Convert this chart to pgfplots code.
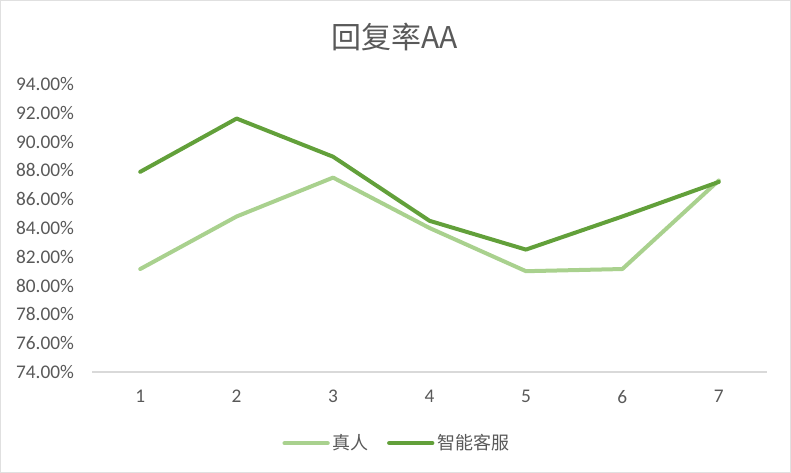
\documentclass[border=0pt]{standalone}
\usepackage{pgfplots}
\pgfplotsset{compat=1.18}
\usepackage{fontspec}
\setmainfont{Carlito}
\newfontfamily\cjk{Noto Sans CJK SC}
\definecolor{txtgray}{HTML}{595959}
\definecolor{lightg}{HTML}{A9D18E}
\definecolor{darkg}{HTML}{62A03A}
\begin{document}
\begin{tikzpicture}[x=0.75pt,y=0.75pt]
\path[use as bounding box] (0,0) rectangle (791,473);
\draw[color=black!12] (0.5,0.5) rectangle (790.5,472.5);
\begin{axis}[
  at={(69pt,75.75pt)}, anchor=south west,
  scale only axis, width=506.25pt, height=216pt,
  xmin=0.5, xmax=7.5, ymin=74, ymax=94,
  xtick={1,2,3,4,5,6,7},
  ytick={74,76,78,80,82,84,86,88,90,92,94},
  yticklabel={\pgfmathprintnumber[fixed,precision=2,fixed zerofill,assume math mode=true]{\tick}\%},
  xticklabel style={font=\fontsize{14.5}{16}\selectfont, text=txtgray},
  yticklabel style={font=\fontsize{14.5}{16}\selectfont, text=txtgray},
  /pgf/number format/assume math mode=true,
  axis x line*=bottom, axis y line*=left,
  x axis line style={draw=black!15, line width=1pt, -},
  y axis line style={draw=none},
  major tick length=0pt,
  xtick style={draw=none}, ytick style={draw=none},
  xticklabel shift=10pt, yticklabel shift=10pt,
  legend style={at={(0.452,-0.247)}, anchor=center, draw=none, legend columns=2,
    font=\cjk\fontsize{13.5}{15}\selectfont, text=txtgray,
    /tikz/every even column/.append style={column sep=12pt}},
  legend image code/.code={\draw[#1, line width=3.5pt, line cap=round] (0pt,0pt) -- (32pt,0pt);},
]
\addplot[color=lightg, line width=3pt, line join=round, line cap=round] coordinates {
  (1,81.15) (2,84.8) (3,87.5) (4,84.0) (5,81.0) (6,81.15) (7,87.3)
};
\addlegendentry{真人}
\addplot[color=darkg, line width=3pt, line join=round, line cap=round] coordinates {
  (1,87.9) (2,91.6) (3,88.95) (4,84.5) (5,82.5) (6,84.8) (7,87.2)
};
\addlegendentry{智能客服}
\end{axis}
\node[font=\cjk\fontsize{22.5}{26}\selectfont, text=txtgray] at (395,436) {回复率AA};
\end{tikzpicture}
\end{document}
